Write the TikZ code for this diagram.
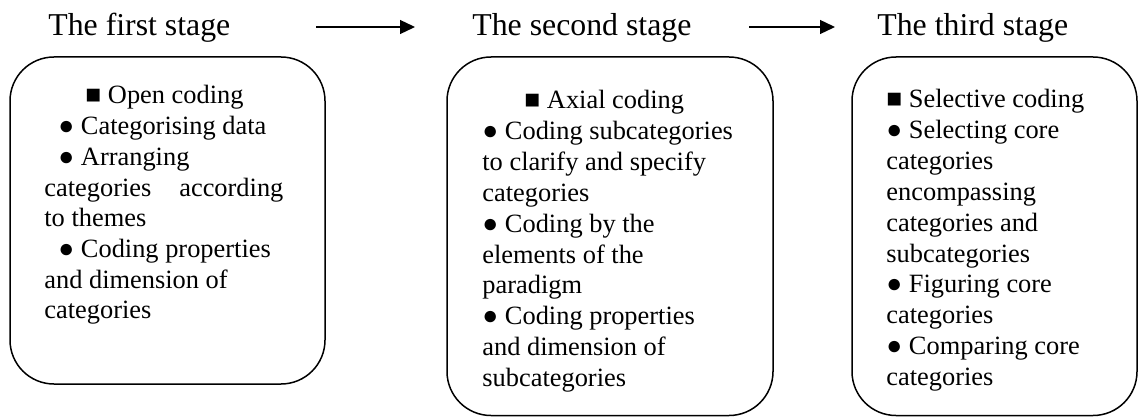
\documentclass[tikz,border=0pt]{standalone}
\usepackage{fontspec}
\setmainfont{Liberation Serif}
\usetikzlibrary{arrows.meta}
\tikzset{
  stagebox/.style={draw, line width=0.75pt, rounded corners=22pt},
  title/.style={anchor=base west, inner sep=0pt, font=\fontsize{15.9pt}{19pt}\selectfont},
  txt/.style={anchor=base west, inner sep=0pt, font=\fontsize{13.2pt}{15.4pt}\selectfont},
  flow/.style={line width=0.65pt, -{Triangle[length=7.5pt,width=7pt]}}
}
\begin{document}
\begin{tikzpicture}[x=0.5pt,y=-0.5pt]
\useasboundingbox (0,0) rectangle (1139,417);
% titles
\node[title] (t1) at (48,36) {The first stage};
\node[title] (t2) at (472,36) {The second stage};
\node[title] (t3) at (877,36) {The third stage};
% arrows
\coordinate (a1s) at (316,27);
\coordinate (a1e) at (415,27);
\coordinate (a2s) at (749,27);
\coordinate (a2e) at (835,27);
\draw[flow] (a1s) -- (a1e);
\draw[flow] (a2s) -- (a2e);
% boxes
\draw[stagebox] (10,57) rectangle (325,384);
\draw[stagebox] (447,57) rectangle (773,415.5);
\draw[stagebox] (852,57) rectangle (1137,415.5);
% box 1 text
\node[txt] (p1) at (85,104) {■ Open coding};
\node[txt] (p2) at (58,134.7) {● Categorising data};
\node[txt] (p3) at (58,165.4) {● Arranging};
\node[txt] (p4) at (44,196.1) {\makebox[119.5pt][s]{categories according}};
\node[txt] (p5) at (44,226.8) {to themes};
\node[txt] (p6) at (58,257.5) {● Coding properties};
\node[txt] (p7) at (44,288.2) {and dimension of};
\node[txt] (p8) at (44,318.9) {categories};
% box 2 text
\node[txt] (q1) at (524,109) {■ Axial coding};
\foreach \t [count=\i from 2] in {● Coding subcategories, to clarify and specify, categories, ● Coding by the, elements of the, paradigm, ● Coding properties, and dimension of, subcategories}
  \node[txt] (q\i) at (482,{109+(\i-1)*30.8}) {\t};
% box 3 text
\foreach \t [count=\i] in {■ Selective coding, ● Selecting core, categories, encompassing, categories and, subcategories, ● Figuring core, categories, ● Comparing core, categories}
  \node[txt] (r\i) at (886,{108+(\i-1)*30.8}) {\t};
\end{tikzpicture}
\end{document}
